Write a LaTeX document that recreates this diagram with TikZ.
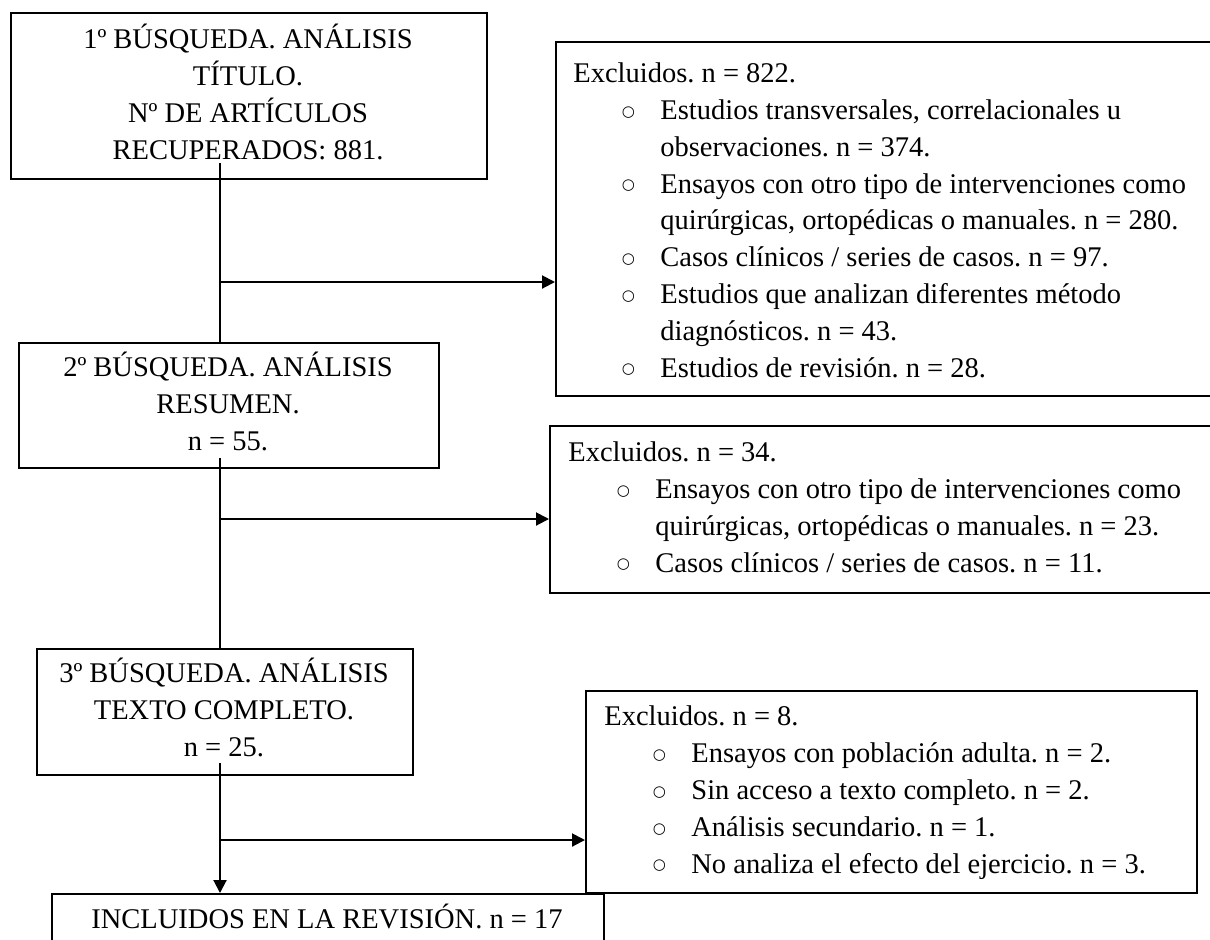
\documentclass[tikz,border=0pt]{standalone}
\usepackage{fontspec}
\setmainfont{Liberation Serif}
\newfontfamily\bulfnt{DejaVu Sans}
\usetikzlibrary{arrows.meta}
\frenchspacing
\newcommand\myitem[1]{\hspace*{24.25pt}\makebox[19.25pt][l]{\raisebox{1.6pt}{\bulfnt\fontsize{7.5}{7.5}\selectfont ○}}#1}
\newcommand\mycont[1]{\hspace*{43.5pt}#1}
\begin{document}
\begin{tikzpicture}[x=0.5pt,y=-0.5pt,
  every node/.style={font=\fontsize{14.25}{18.4}\selectfont, inner sep=0pt},
  frame/.style={draw, line width=1pt, anchor=north west},
  ctext/.style={anchor=base, align=center},
  extext/.style={anchor=base west, align=left},
  link/.style={line width=1pt},
  arr/.style={line width=1pt, -{Triangle[length=6.5pt,width=6.5pt]}}]
\useasboundingbox (0,0) rectangle (1210,939);
\clip (0,0) rectangle (1210,939);
% main boxes (text anchored at the baseline of its last line)
\node[frame, minimum width=238pt, minimum height=83pt] (b1) at (10,12) {};
\node[ctext] (t1) at (248,159)
  {1º BÚSQUEDA. ANÁLISIS\\TÍTULO.\\Nº DE ARTÍCULOS\\RECUPERADOS: 881.};
\node[frame, minimum width=210pt, minimum height=62.5pt] (b2) at (18,342) {};
\node[ctext] (t2) at (228,450)
  {2º BÚSQUEDA. ANÁLISIS\\RESUMEN.\\n = 55.};
\node[frame, minimum width=188pt, minimum height=63pt] (b3) at (36,648) {};
\node[ctext] (t3) at (224,756)
  {3º BÚSQUEDA. ANÁLISIS\\TEXTO COMPLETO.\\n = 25.};
\node[frame, minimum width=276pt, minimum height=50pt] (b4) at (51,893) {};
\node[ctext] (t4) at (327,928) {INCLUIDOS EN LA REVISIÓN. n = 17};
% exclusion boxes
\node[frame, minimum width=337.5pt, minimum height=177pt] (e1) at (555,41) {};
\node[extext] (te1) at (573,377) {Excluidos. n = 822.\\
\myitem{Estudios transversales, correlacionales u}\\
\mycont{observaciones. n = 374.}\\
\myitem{Ensayos con otro tipo de intervenciones como}\\
\mycont{quirúrgicas, ortopédicas o manuales. n = 280.}\\
\myitem{Casos clínicos / series de casos. n = 97.}\\
\myitem{Estudios que analizan diferentes método}\\
\mycont{diagnósticos. n = 43.}\\
\myitem{Estudios de revisión. n = 28.}};
\node[frame, minimum width=340.5pt, minimum height=83.5pt] (e2) at (549,425) {};
\node[extext] (te2) at (568,572) {Excluidos. n = 34.\\
\myitem{Ensayos con otro tipo de intervenciones como}\\
\mycont{quirúrgicas, ortopédicas o manuales. n = 23.}\\
\myitem{Casos clínicos / series de casos. n = 11.}};
\node[frame, minimum width=305.5pt, minimum height=101pt] (e3) at (585,690) {};
\node[extext] (te3) at (604,873) {Excluidos. n = 8.\\
\myitem{Ensayos con población adulta. n = 2.}\\
\myitem{Sin acceso a texto completo. n = 2.}\\
\myitem{Análisis secundario. n = 1.}\\
\myitem{No analiza el efecto del ejercicio. n = 3.}};
% connectors
\coordinate (s1) at (220,163);
\coordinate (j1) at (220,282);
\coordinate (s2) at (220,458);
\coordinate (j2) at (220,519);
\coordinate (s3) at (220,763);
\coordinate (j3) at (220,840);
\draw[link] (s1) -- (s1 |- b2.north);
\draw[arr] (j1) -- (j1 -| e1.west);
\draw[link] (s2) -- (s2 |- b3.north);
\draw[arr] (j2) -- (j2 -| e2.west);
\draw[arr] (s3) -- (s3 |- b4.north);
\draw[arr] (j3) -- (j3 -| e3.west);
\end{tikzpicture}
\end{document}
